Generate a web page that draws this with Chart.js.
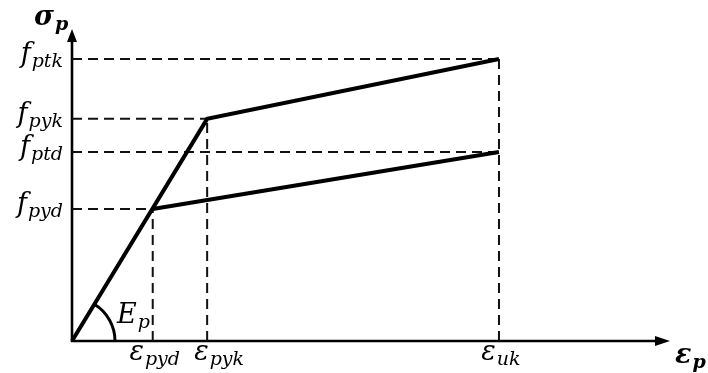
<!DOCTYPE html>
<html>
<head>
<meta charset="utf-8">
<script src="https://cdn.jsdelivr.net/npm/chart.js@4.4.1/dist/chart.umd.min.js"></script>
<style>
  html, body { margin: 0; padding: 0; background: #fff; }
  #wrap { width: 708px; height: 373px; position: relative; }
</style>
</head>
<body>
<div id="wrap"><canvas id="c"></canvas></div>
<script>
// Idealised stress–strain diagram of prestressing steel (schematic units)
const strainNames = [['ε', 'pyd'], ['ε', 'pyk'], ['ε', 'uk']];
const strainValues = [13.5, 22.6, 71.4];          // ε_pyd, ε_pyk, ε_uk

const stressNames = [['f', 'pyd'], ['f', 'ptd'], ['f', 'pyk'], ['f', 'ptk']];
const stressValues = [42.3, 60.6, 71.2, 90.4];    // f_pyd, f_ptd, f_pyk, f_ptk

// characteristic branch: origin -> (ε_pyk, f_pyk) -> (ε_uk, f_ptk)
const charX = [0, 22.6, 71.4];
const charY = [0, 71.2, 90.4];
// design branch: (ε_pyd, f_pyd) -> (ε_uk, f_ptd)
const designX = [13.5, 71.4];
const designY = [42.3, 60.6];

const axisNames = { x: ['ε', 'p'], y: ['σ', 'p'], slope: ['E', 'p'] };

const pts = (xs, ys) => xs.map((x, i) => ({ x: x, y: ys[i] }));

const solid = (data) => ({
  data, showLine: true, borderColor: '#000', borderWidth: 4,
  pointRadius: 0, fill: false, order: 0, borderCapStyle: 'butt', borderJoinStyle: 'miter'
});
const dashed = (data) => ({
  data, showLine: true, borderColor: '#111', borderWidth: 2, borderDash: [10, 6],
  pointRadius: 0, fill: false, order: 1, borderCapStyle: 'butt'
});

const [eYd, eYk, eUk] = strainValues;
const [fYd, fTd, fYk, fTk] = stressValues;

const guides = [
  // horizontal guides from the stress axis
  [{ x: 0, y: fYd }, { x: eYd, y: fYd }],
  [{ x: 0, y: fYk }, { x: eYk, y: fYk }],
  [{ x: 0, y: fTd }, { x: eUk, y: fTd }],
  [{ x: 0, y: fTk }, { x: eUk, y: fTk }],
  // vertical guides from the strain axis
  [{ x: eYd, y: 0 }, { x: eYd, y: fYd }],
  [{ x: eYk, y: 0 }, { x: eYk, y: fYk }],
  [{ x: eUk, y: 0 }, { x: eUk, y: fTk }]
];

const MAIN = "italic 27px 'DejaVu Serif'";
const SUB = "italic 19px 'DejaVu Serif'";

function symbolWidth(ctx, pair, mainFont, subFont) {
  ctx.font = mainFont; const w1 = ctx.measureText(pair[0]).width;
  ctx.font = subFont; const w2 = ctx.measureText(pair[1]).width;
  return w1 + 1 + w2;
}
function drawSymbol(ctx, pair, x, baseline, mainFont, subFont, subShift) {
  ctx.font = mainFont;
  ctx.textAlign = 'left'; ctx.textBaseline = 'alphabetic';
  ctx.fillText(pair[0], x, baseline);
  const w1 = ctx.measureText(pair[0]).width;
  ctx.font = subFont;
  ctx.fillText(pair[1], x + w1 + 1, baseline + subShift);
}

const axesPlugin = {
  id: 'axesAndLabels',
  beforeDatasetsDraw(chart) {
    const { ctx } = chart;
    const xs = chart.scales.x, ys = chart.scales.y;
    const x0 = xs.getPixelForValue(0), y0 = ys.getPixelForValue(0);
    const xEnd = xs.right, yEnd = ys.top;
    ctx.save();
    ctx.strokeStyle = '#000'; ctx.fillStyle = '#000'; ctx.lineWidth = 2.6;
    // axes
    ctx.beginPath();
    ctx.moveTo(x0, y0 + 1); ctx.lineTo(x0, yEnd + 10);
    ctx.moveTo(x0 - 1, y0); ctx.lineTo(xEnd - 12, y0);
    ctx.stroke();
    // arrow heads
    ctx.beginPath();
    ctx.moveTo(x0, yEnd); ctx.lineTo(x0 - 5, yEnd + 13); ctx.lineTo(x0 + 5, yEnd + 13); ctx.closePath();
    ctx.fill();
    ctx.beginPath();
    ctx.moveTo(xEnd, y0); ctx.lineTo(xEnd - 15, y0 - 5); ctx.lineTo(xEnd - 15, y0 + 5); ctx.closePath();
    ctx.fill();
    ctx.restore();
  },
  afterDraw(chart) {
    const { ctx } = chart;
    const xs = chart.scales.x, ys = chart.scales.y;
    const x0 = xs.getPixelForValue(0), y0 = ys.getPixelForValue(0);
    ctx.save();
    ctx.fillStyle = '#000'; ctx.strokeStyle = '#000';

    // angle mark for the elastic modulus
    const px = xs.getPixelForValue(charX[1]), py = ys.getPixelForValue(charY[1]);
    const ang = Math.atan2(py - y0, px - x0);
    ctx.lineWidth = 3;
    ctx.beginPath();
    ctx.arc(x0, y0, 43, ang, 0);
    ctx.stroke();
    drawSymbol(ctx, axisNames.slope, x0 + 45, y0 - 18, MAIN, SUB, 5);

    // stress labels on the vertical axis
    stressNames.forEach((pair, i) => {
      const y = ys.getPixelForValue(stressValues[i]);
      const w = symbolWidth(ctx, pair, MAIN, SUB);
      drawSymbol(ctx, pair, x0 - 9 - w, y + 3, MAIN, SUB, 5);
    });

    // strain labels under the horizontal axis
    const nudge = [2, 12, 2];
    strainNames.forEach((pair, i) => {
      const x = xs.getPixelForValue(strainValues[i]);
      const w = symbolWidth(ctx, pair, MAIN, SUB);
      drawSymbol(ctx, pair, x - w / 2 + nudge[i], y0 + 19, MAIN, SUB, 5);
    });

    // axis titles
    const BMAIN = "bold italic 27px 'DejaVu Serif'";
    const BSUB = "bold italic 19px 'DejaVu Serif'";
    drawSymbol(ctx, axisNames.y, 34, 25, BMAIN, BSUB, 5);
    drawSymbol(ctx, axisNames.x, xs.right + 5, y0 + 22, BMAIN, BSUB, 5);
    ctx.restore();
  }
};

new Chart(document.getElementById('c'), {
  type: 'scatter',
  data: {
    datasets: [
      solid(pts(charX, charY)),
      solid(pts(designX, designY)),
      ...guides.map(dashed)
    ]
  },
  options: {
    responsive: true,
    maintainAspectRatio: false,
    animation: false,
    layout: { padding: { left: 72, right: 38, top: 29, bottom: 32 } },
    scales: {
      x: { type: 'linear', min: 0, max: 100, display: false },
      y: { type: 'linear', min: 0, max: 100, display: false }
    },
    plugins: { legend: { display: false }, tooltip: { enabled: false } },
    elements: { line: { tension: 0 } },
    clip: false
  },
  plugins: [axesPlugin]
});
</script>
</body>
</html>
